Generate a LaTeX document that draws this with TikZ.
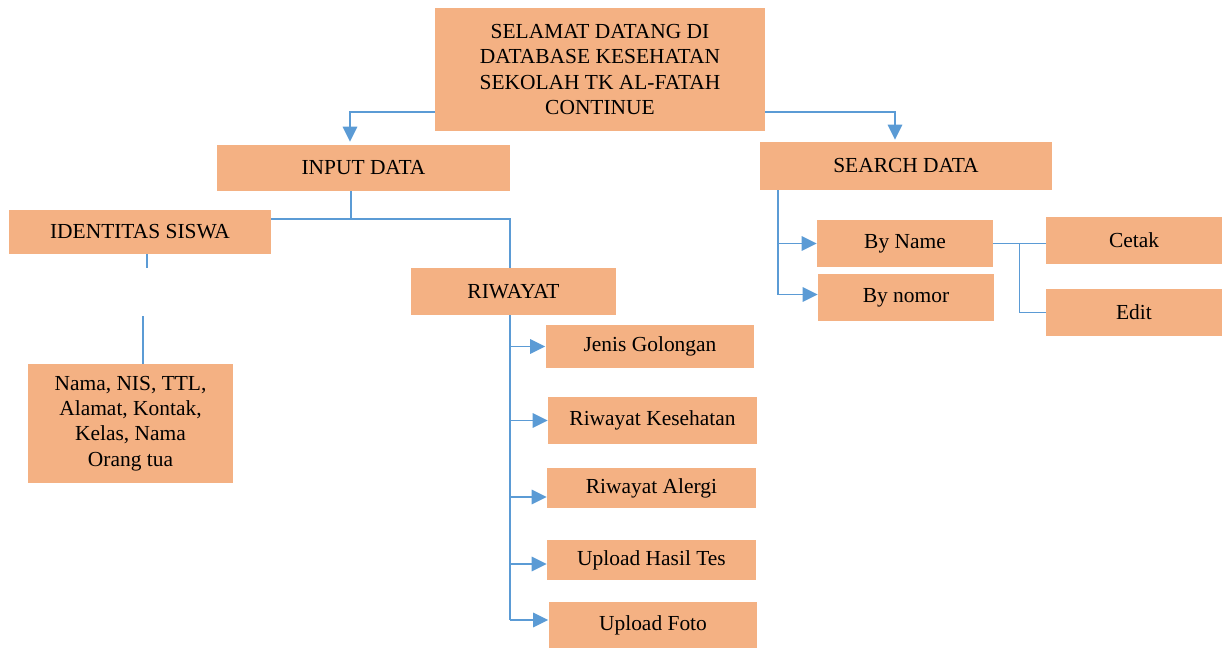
\documentclass[tikz,border=0pt]{standalone}
\usepackage{fontspec}
\setmainfont{Liberation Serif}
\usepackage{tikz}
\usetikzlibrary{positioning,arrows.meta,calc}

\definecolor{boxfill}{HTML}{F4B183}
\definecolor{linkblue}{HTML}{5B9BD5}

\begin{document}
\begin{tikzpicture}[
        x=0.02cm, y=-0.02cm,
        font=\fontsize{12.2pt}{14.4pt}\selectfont,
        box/.style={fill=boxfill, inner sep=0pt, align=center},
        sub/.style={box, minimum width=4.18cm, minimum height=0.86cm},
        link/.style={draw=linkblue, line width=1pt},
        line/.style={link, -{Triangle[length=0.3cm, width=0.29cm]}}
    ]
        \useasboundingbox (0,0) rectangle (1224,649);

        \node[box, minimum width=6.6cm, minimum height=2.46cm] (title) at (600,69.5)
            {SELAMAT DATANG DI\\DATABASE KESEHATAN\\SEKOLAH TK AL-FATAH\\CONTINUE};
        \node[box, minimum width=5.86cm, minimum height=0.92cm] (input) at (363.5,168) {INPUT DATA};
        \node[box, minimum width=5.84cm, minimum height=0.96cm] (search) at (906,166) {SEARCH DATA};
        \node[box, minimum width=5.24cm, minimum height=0.88cm] (ident) at (140,232) {IDENTITAS SISWA};
        \node[box, minimum width=4.1cm, minimum height=0.94cm] (riwayat) at (513.5,291.5) {RIWAYAT};
        \node[box, minimum width=4.1cm, minimum height=2.38cm] (nama) at (130.5,423.5)
            {Nama, NIS, TTL,\\Alamat, Kontak,\\Kelas, Nama\\Orang tua};

        \node[sub] (jenis) at (650,346.5) {Jenis Golongan};
        \node[sub, minimum height=0.94cm] (kesehatan) at (652.5,420.5) {Riwayat Kesehatan};
        \node[sub, minimum height=0.8cm] (alergi) at (651.5,488) {Riwayat Alergi};
        \node[sub, minimum height=0.8cm] (hasil) at (651.5,560) {Upload Hasil Tes};
        \node[sub, minimum height=0.92cm] (foto) at (653,625) {Upload Foto};

        \node[box, minimum width=3.52cm, minimum height=0.94cm] (byname) at (905,243.5) {By Name};
        \node[box, minimum width=3.52cm, minimum height=0.94cm] (bynomor) at (906,297.5) {By nomor};
        \node[box, minimum width=3.52cm, minimum height=0.94cm] (cetak) at (1134,240.5) {Cetak};
        \node[box, minimum width=3.52cm, minimum height=0.94cm] (edit) at (1134,312.5) {Edit};

        % title to both branches
        \draw[line] ([yshift=0.38cm]title.south west) -| ([xshift=-0.27cm,yshift=0.06cm]input.north);
        \draw[line] ([yshift=0.38cm]title.south east) -| ([xshift=-0.22cm,yshift=0.04cm]search.north);

        % input data
        \draw[link] ([xshift=-0.25cm]input.south) -- ++(0,28);
        \draw[link] ([yshift=0.26cm]ident.east) -| ([xshift=-0.07cm]riwayat.north);
        \draw[link] ([xshift=0.14cm]ident.south) -- ++(0,14);
        \draw[link] ([xshift=0.25cm]nama.north) -- ++(0,-48);

        % riwayat
        \coordinate (rtrunk) at ([xshift=-0.07cm]riwayat.south);
        \coordinate (rend) at ($(foto.west)+(0,-5)$);
        \draw[link] (rtrunk) -- (rtrunk |- rend);
        \foreach \c/\s in {jenis/0, kesehatan/0, alergi/9, hasil/4, foto/-5} {
            \coordinate (tip) at ($(\c.west)+(0,\s)$);
            \draw[line] (rtrunk |- tip) -- (tip);
        }

        % search data
        \coordinate (strunk) at ([xshift=0.36cm]search.south west);
        \coordinate (send) at ($(bynomor.west)+(0,-3)$);
        \draw[link] (strunk) -- (strunk |- send);
        \draw[line] (strunk |- byname.west) -- (byname.west);
        \draw[line] (strunk |- send) -- (send);

        \draw[link] (byname.east) -- (cetak.west |- byname.east);
        \draw[link] ($(byname.east)!0.5!(cetak.west |- byname.east)$) |- (edit.west);
    \end{tikzpicture}
\end{document}
